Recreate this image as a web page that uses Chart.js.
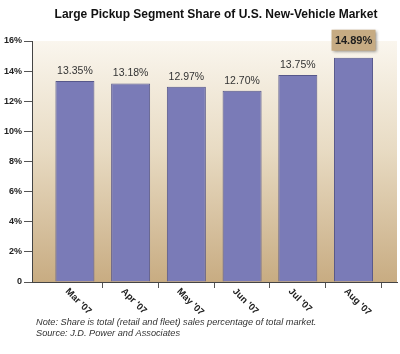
<!DOCTYPE html>
<html lang="en">
<head>
  <meta charset="UTF-8">
  <title>Large Pickup Segment Share</title>
  <script src="https://cdn.jsdelivr.net/npm/chart.js"></script>
  <style>
    * { margin: 0; padding: 0; box-sizing: border-box; }
    body { background: #fff; width: 400px; height: 354px; overflow: hidden; }
    #wrap { position: relative; width: 400px; height: 354px; }
  </style>
</head>
<body>
<div id="wrap"><canvas id="shareChart" width="400" height="354"></canvas></div>

<script>
  // data
  const months = ["Mar '07", "Apr '07", "May '07", "Jun '07", "Jul '07", "Aug '07"];
  const share = [13.35, 13.18, 12.97, 12.70, 13.75, 14.89];
  const yTickValues = [0, 2, 4, 6, 8, 10, 12, 14, 16];
  const highlightIndex = 5;

  const titleText = 'Large Pickup Segment Share of U.S. New-Vehicle Market';
  const noteLines = [
    'Note: Share is total (retail and fleet) sales percentage of total market.',
    'Source: J.D. Power and Associates'
  ];

  const FONT = "'Liberation Sans', Arial, sans-serif";

  // tan gradient behind the bars
  const plotBackground = {
    id: 'plotBackground',
    beforeDraw(chart) {
      const { ctx, chartArea: a } = chart;
      const g = ctx.createLinearGradient(0, a.top, 0, a.bottom);
      g.addColorStop(0, '#faf6ee');
      g.addColorStop(0.45, '#e8dbc3');
      g.addColorStop(1, '#c8ac82');
      ctx.save();
      ctx.fillStyle = g;
      ctx.fillRect(a.left, a.top, a.right - a.left, a.bottom - a.top);
      ctx.restore();
    }
  };

  // value labels, month labels, title and footnote
  const annotations = {
    id: 'annotations',
    afterDraw(chart) {
      const { ctx } = chart;
      const meta = chart.getDatasetMeta(0);
      const xs = chart.scales.x;
      ctx.save();

      meta.data.forEach((bar, i) => {
        const label = share[i].toFixed(2) + '%';
        if (i === highlightIndex) {
          const w = 44, h = 21;
          const bx = bar.x - w / 2, by = bar.y - 7 - h;
          ctx.shadowColor = 'rgba(0,0,0,0.45)';
          ctx.shadowBlur = 3;
          ctx.shadowOffsetX = 1.5;
          ctx.shadowOffsetY = 1.5;
          ctx.fillStyle = '#c6ab83';
          ctx.fillRect(bx, by, w, h);
          ctx.shadowColor = 'transparent';
          ctx.font = 'bold 11px ' + FONT;
          ctx.fillStyle = '#1e1e1e';
          ctx.textAlign = 'center';
          ctx.textBaseline = 'middle';
          ctx.fillText(label, bar.x, by + h / 2 + 0.5);
        } else {
          ctx.font = '10.5px ' + FONT;
          ctx.fillStyle = '#333';
          ctx.textAlign = 'center';
          ctx.textBaseline = 'middle';
          ctx.fillText(label, bar.x, bar.y - 10);
        }
      });

      // rotated month labels under the axis
      ctx.font = 'bold 9.5px ' + FONT;
      ctx.fillStyle = '#222';
      ctx.textAlign = 'left';
      ctx.textBaseline = 'middle';
      months.forEach((m, i) => {
        const x = xs.getPixelForValue(i);
        ctx.save();
        ctx.translate(x - 8, xs.top + 8);
        ctx.rotate(Math.PI / 4);
        ctx.fillText(m, 0, 0);
        ctx.restore();
      });

      ctx.font = 'bold 12px ' + FONT;
      ctx.fillStyle = '#111';
      ctx.textAlign = 'center';
      ctx.fillText(titleText, 216, 15);

      ctx.font = 'italic 9.2px ' + FONT;
      ctx.fillStyle = '#333';
      ctx.textAlign = 'left';
      noteLines.forEach((t, i) => ctx.fillText(t, 36, 322 + i * 11));

      ctx.restore();
    }
  };

  new Chart(document.getElementById('shareChart'), {
    type: 'bar',
    data: {
      datasets: [{
        data: share.map((v, i) => ({ x: i, y: v })),
        backgroundColor: '#7a7bb7',
        borderColor: '#56578a',
        borderWidth: 1,
        categoryPercentage: 1,
        barPercentage: 0.7
      }]
    },
    options: {
      responsive: false,
      animation: false,
      layout: { padding: { top: 41, right: 3, left: 0, bottom: 0 } },
      plugins: { legend: { display: false }, tooltip: { enabled: false } },
      scales: {
        x: {
          type: 'linear',
          offset: false,
          min: -0.77,
          max: 5.78,
          afterBuildTicks: s => {
            s.ticks = months.map((m, i) => ({ value: i + 0.5 }));
          },
          afterFit: s => { s.height = 72; },
          ticks: { display: false },
          grid: { offset: false, drawOnChartArea: false, tickLength: 6, color: '#555' },
          border: { color: '#444' }
        },
        y: {
          min: 0,
          max: 16,
          afterBuildTicks: s => {
            s.ticks = yTickValues.map(v => ({ value: v }));
          },
          afterFit: s => { s.width = 32; },
          ticks: {
            padding: 2,
            color: '#222',
            font: { family: FONT, size: 9, weight: 'bold' },
            callback: v => v === 0 ? '0' : v + '%'
          },
          grid: { drawOnChartArea: false, tickLength: 8, color: '#555' },
          border: { color: '#444' }
        }
      }
    },
    plugins: [plotBackground, annotations]
  });
</script>
</body>
</html>
